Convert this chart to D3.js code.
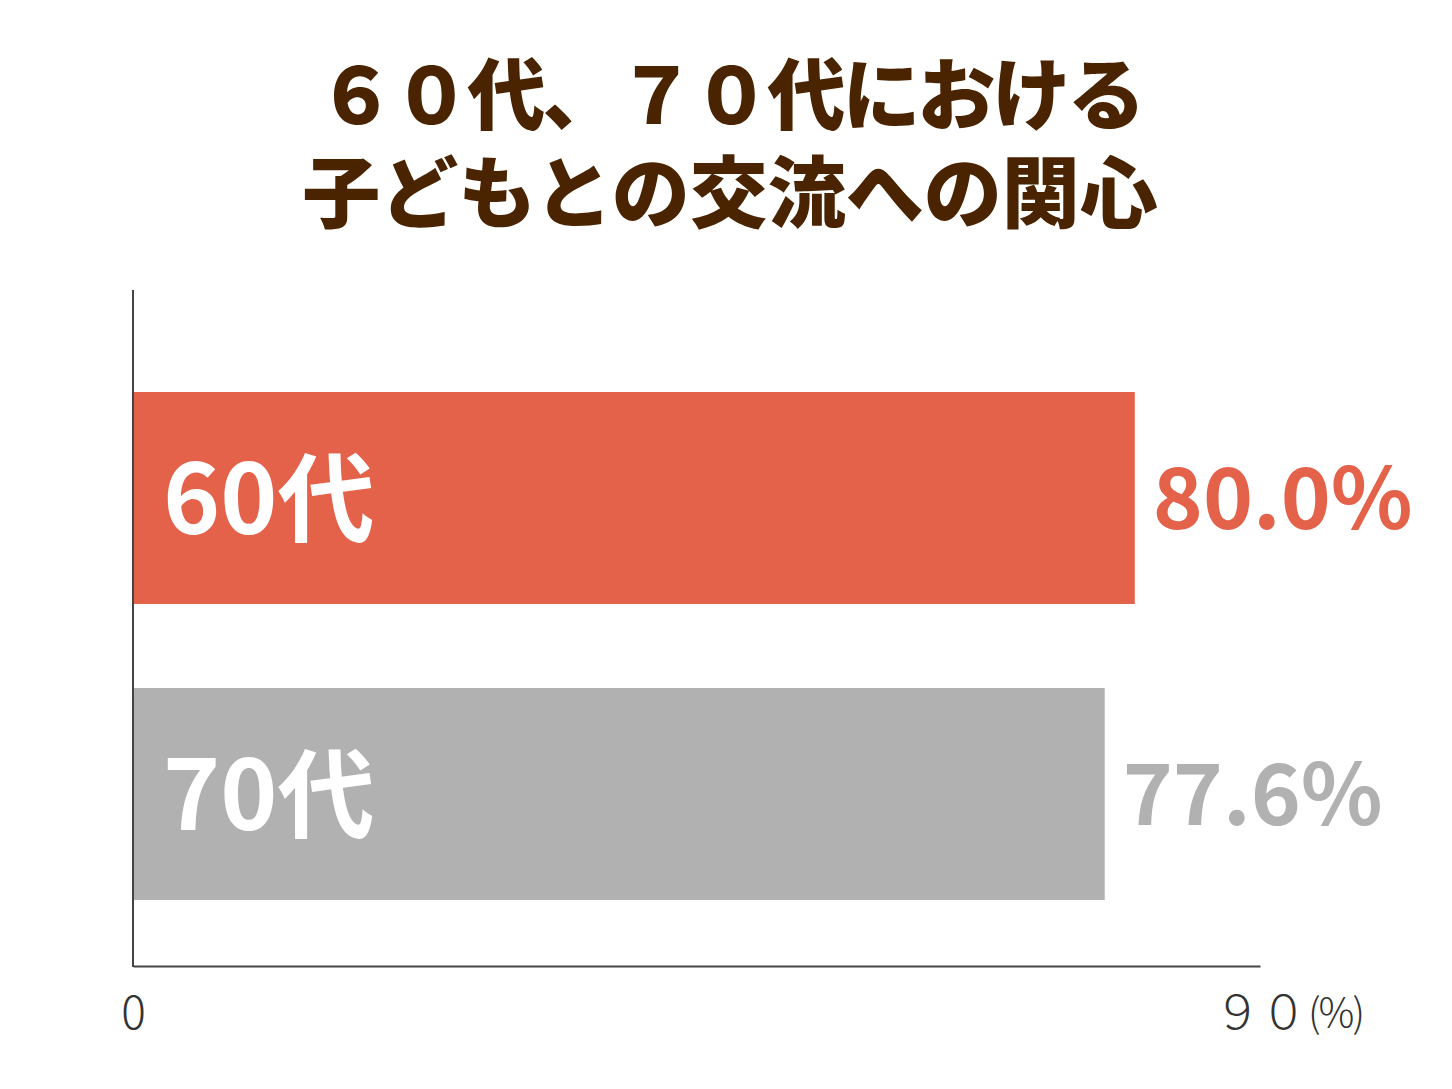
<!DOCTYPE html>
<html>
<head>
<meta charset="utf-8">
<script src="https://cdn.jsdelivr.net/npm/d3@7"></script>
<style>
  body { margin: 0; background: #fff; }
  text { font-family: "Noto Sans CJK JP", "Noto Sans", sans-serif; }
</style>
</head>
<body>
<div id="chart"></div>
<script>
var titleLines = ["６０代、７０代における", "子どもとの交流への関心"];
var categories = ["60代", "70代"];
var values = [80.0, 77.6];
var valueLabels = ["80.0%", "77.6%"];
var barColors = ["#e4614a", "#b1b1b1"];
var tickValues = [0, 90];
var tickLabels = ["0", "９０"];
var unitLabel = "(%)";

var svg = d3.select("#chart")
    .append("svg")
    .attr("width", 1452)
    .attr("height", 1089);

// title as one text block, two lines
var title = svg.append("text")
    .attr("class", "title")
    .attr("text-anchor", "middle")
    .style("font-size", "78px")
    .style("font-weight", 900)
    .attr("fill", "#4a2300");

title.selectAll("tspan")
    .data(titleLines)
    .enter()
    .append("tspan")
    .attr("x", 730)
    .attr("y", function (d, i) { return 124 + i * 98; })
    .style("letter-spacing", function (d, i) { return i == 0 ? "-3px" : "0px"; })
    .text(function (d) { return d; });

var x = d3.scaleLinear()
    .domain([0, 90])
    .range([133, 1260]);

var y = d3.scaleBand()
    .domain(categories)
    .range([350, 942])
    .paddingInner(0.284)
    .paddingOuter(0.142);

var rows = categories.map(function (c, i) {
    return {cat: c, value: values[i], label: valueLabels[i], color: barColors[i]};
});

svg.selectAll("rect.bar")
    .data(rows)
    .enter()
    .append("rect")
    .attr("class", "bar")
    .attr("x", x(0))
    .attr("y", function (d) { return y(d.cat); })
    .attr("width", function (d) { return x(d.value) - x(0); })
    .attr("height", y.bandwidth())
    .attr("fill", function (d) { return d.color; });

// category labels inside bars
svg.selectAll("text.cat")
    .data(rows)
    .enter()
    .append("text")
    .attr("class", "cat")
    .attr("x", x(0) + 30)
    .attr("y", function (d) { return y(d.cat) + y.bandwidth() / 2 + 36; })
    .style("font-size", "97px")
    .style("font-weight", 700)
    .attr("fill", "#fff")
    .text(function (d) { return d.cat; });

// value labels
svg.selectAll("text.val")
    .data(rows)
    .enter()
    .append("text")
    .attr("class", "val")
    .attr("x", function (d) { return x(d.value) + 18; })
    .attr("y", function (d) { return y(d.cat) + y.bandwidth() / 2 + 31; })
    .style("font-size", "85px")
    .style("font-weight", 700)
    .attr("fill", function (d) { return d.color; })
    .text(function (d) { return d.label; });

// axes
var xAxis = d3.axisBottom(x)
    .tickValues(tickValues)
    .tickSize(0)
    .tickSizeOuter(0)
    .tickFormat(function (d, i) { return tickLabels[i]; });

var gx = svg.append("g")
    .attr("transform", "translate(0,966)")
    .call(xAxis);
gx.select(".domain").attr("stroke", "#444").attr("stroke-width", 2);
gx.selectAll("text")
    .attr("y", 30)
    .attr("dy", "0.71em")
    .attr("fill", "#333")
    .style("font-size", "46px")
    .style("font-weight", 300)
    .style("font-family", "'Noto Sans CJK JP', sans-serif");

svg.append("text")
    .attr("x", 1308)
    .attr("y", 1027)
    .attr("fill", "#333")
    .style("font-size", "40px")
    .style("font-weight", 300)
    .style("letter-spacing", "-2px")
    .text(unitLabel);

svg.append("line")
    .attr("x1", x(0))
    .attr("x2", x(0))
    .attr("y1", 290)
    .attr("y2", 967)
    .attr("stroke", "#444")
    .attr("stroke-width", 2);
</script>
</body>
</html>
